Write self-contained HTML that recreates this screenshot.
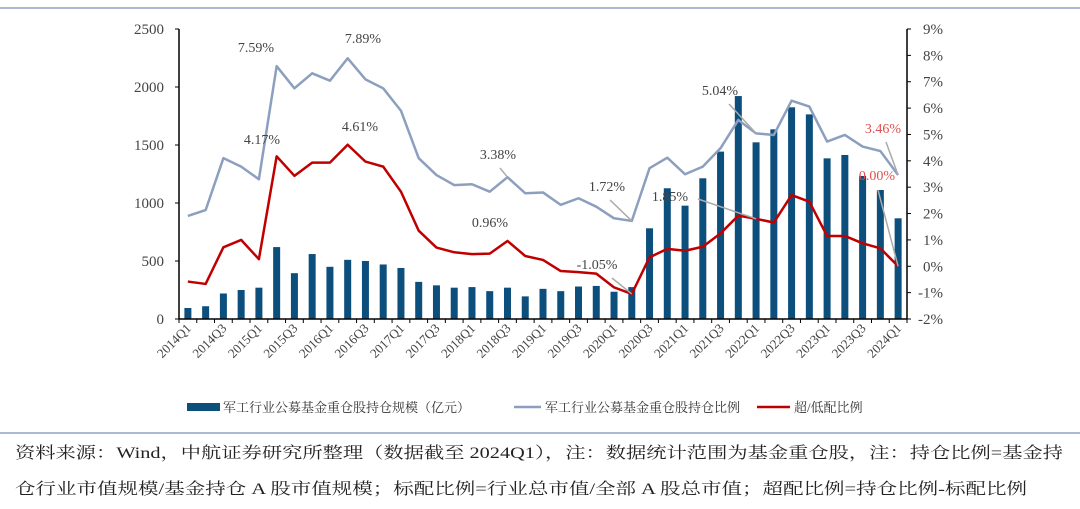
<!DOCTYPE html>
<html><head><meta charset="utf-8"><style>
html,body{margin:0;padding:0;background:#fff;}
svg{display:block;}
</style></head><body>
<svg id="chart" width="1080" height="509" viewBox="0 0 1080 509" xmlns="http://www.w3.org/2000/svg" font-family="'Liberation Serif','Noto Serif CJK SC',serif">
<line x1="0" y1="8" x2="1080" y2="8" stroke="#8da2c6" stroke-width="1.5"/>
<line x1="0" y1="433" x2="1080" y2="433" stroke="#8da2c6" stroke-width="1.5"/>
<g id="plot"></g>
<g font-family="'Liberation Serif','Noto Serif CJK SC',serif" font-size="13" fill="#333">
  <rect x="187" y="403" width="33" height="8" fill="#0d4f7c"/>
  <text x="223" y="412">军工行业公募基金重仓股持仓规模（亿元）</text>
  <line x1="514" y1="407" x2="541" y2="407" stroke="#8d9fbf" stroke-width="2.5"/>
  <text x="545" y="412">军工行业公募基金重仓股持仓比例</text>
  <line x1="757" y1="407" x2="790" y2="407" stroke="#c00000" stroke-width="2.5"/>
  <text x="794" y="412">超/低配比例</text>
</g>
<text x="15" y="458" font-size="16" fill="#222" textLength="1048" lengthAdjust="spacingAndGlyphs">资料来源：Wind，中航证券研究所整理（数据截至 2024Q1），注：数据统计范围为基金重仓股，注：持仓比例=基金持</text>
<text x="15" y="494" font-size="16" fill="#222" textLength="1012" lengthAdjust="spacingAndGlyphs">仓行业市值规模/基金持仓 A 股市值规模；标配比例=行业总市值/全部 A 股总市值；超配比例=持仓比例-标配比例</text>
</svg>
<script>
const categories = ["2014Q1","2014Q2","2014Q3","2014Q4","2015Q1","2015Q2","2015Q3","2015Q4","2016Q1","2016Q2","2016Q3","2016Q4","2017Q1","2017Q2","2017Q3","2017Q4","2018Q1","2018Q2","2018Q3","2018Q4","2019Q1","2019Q2","2019Q3","2019Q4","2020Q1","2020Q2","2020Q3","2020Q4","2021Q1","2021Q2","2021Q3","2021Q4","2022Q1","2022Q2","2022Q3","2022Q4","2023Q1","2023Q2","2023Q3","2023Q4","2024Q1"];
const holdingScale = [95,110,220,250,270,620,395,560,450,510,500,470,440,320,290,270,275,240,270,195,260,240,280,285,235,275,782,1127,977,1213,1443,1922,1523,1635,1825,1764,1385,1414,1233,1112,868];
const holdingRatio = [1.91,2.13,4.10,3.78,3.30,7.59,6.75,7.32,7.04,7.89,7.09,6.75,5.90,4.10,3.46,3.08,3.11,2.83,3.38,2.77,2.80,2.33,2.58,2.26,1.82,1.72,3.72,4.12,3.49,3.78,4.48,5.55,5.04,4.98,6.28,6.06,4.73,4.98,4.54,4.37,3.46];
const overweight = [-0.58,-0.67,0.72,1.00,0.27,4.17,3.43,3.93,3.93,4.61,3.97,3.78,2.83,1.35,0.71,0.53,0.46,0.48,0.96,0.39,0.24,-0.18,-0.22,-0.28,-0.80,-1.05,0.34,0.66,0.59,0.74,1.25,1.92,1.80,1.66,2.70,2.45,1.15,1.15,0.87,0.68,0.00];
const leftTicks = [0,500,1000,1500,2000,2500];
const rightTicks = [-2,-1,0,1,2,3,4,5,6,7,8,9];
const annoIdx = [5,9,5,9,18,18,25,25,32,32,40,40];
const annoSeries = ["r","r","o","o","r","o","r","o","o","r","r","o"];

const NS="http://www.w3.org/2000/svg";
const L=179,R=907,T=29,B=319;
const n=categories.length, step=(R-L)/n;
const xC=i=>L+step*(i+0.5);
const yL=v=>B-(v-0)/(2500-0)*(B-T);
const yR=v=>B-(v-(-2))/(9-(-2))*(B-T);
const g=document.getElementById('plot');
function mk(tag,attrs){const e=document.createElementNS(NS,tag);for(const k in attrs)e.setAttribute(k,attrs[k]);g.appendChild(e);return e;}

holdingScale.forEach((v,i)=>{
  const b=mk('rect',{x:xC(i)-3.5,y:yL(v),width:7,height:B-yL(v),fill:'#0d4f7c'});
  
  
});
function line(arr,color,name){
  const p=mk('polyline',{points:arr.map((v,i)=>xC(i)+','+yR(v)).join(' '),fill:'none',stroke:color,'stroke-width':2.5,'stroke-linejoin':'round'});
  
  
}
line(holdingRatio,'#8d9fbf','holding-ratio-line');
line(overweight,'#c00000','overweight-ratio-line');

const ax1=mk('line',{x1:L,y1:T,x2:L,y2:B,stroke:'#000','stroke-width':1.5});


const ax2=mk('line',{x1:R,y1:T,x2:R,y2:B,stroke:'#000','stroke-width':1.5});


const ax3=mk('line',{x1:L,y1:B,x2:R,y2:B,stroke:'#000','stroke-width':1.5});



leftTicks.forEach(v=>{
  mk('line',{x1:L-4,y1:yL(v),x2:L,y2:yL(v),stroke:'#000'});
  const t=mk('text',{x:L-15,y:yL(v)+5,'text-anchor':'end','font-size':15,fill:'#444'});
  t.textContent=v;
  
  
});
rightTicks.forEach(v=>{
  mk('line',{x1:R,y1:yR(v),x2:R+4,y2:yR(v),stroke:'#000'});
  const t=mk('text',{x:R+36,y:yR(v)+5,'text-anchor':'end','font-size':15,fill:'#444'});
  t.textContent=v+'%';
  
  
});
for(let i=0;i<=n;i++) mk('line',{x1:L+step*i,y1:B,x2:L+step*i,y2:B+4,stroke:'#000'});
categories.forEach((c,i)=>{
  if(i%2) return;
  const x=xC(i)+4,y=B+10;
  const t=mk('text',{x:x,y:y,'text-anchor':'end','font-size':13,fill:'#444',transform:`rotate(-45 ${x} ${y})`});
  t.textContent=c;
  
  
});

// label layout positions (not data): [x, y baseline, leader start x, leader start y or null]
const annoPos=[[256,52,null,null],[363,43,null,null],[262,144,null,null],[360,131,null,null],[498,159,500,168],[490,227,null,null],[607,191,610,200],[597,269,612,278],[670,201,698,199],[720,95,729,104],[883,133,886,142],[877,180,878,190]];
annoIdx.forEach((idx,k)=>{
  const isR=annoSeries[k]==='r';
  const v=isR?holdingRatio[idx]:overweight[idx];
  const px=xC(idx),py=yR(v);
  const [tx,ty,lx,ly]=annoPos[k];
  const col=(idx===40)?'#e05050':'#444';
  if(lx!==null){
    const ln=mk('line',{x1:lx,y1:ly,x2:px,y2:py,stroke:'#aaa','stroke-width':1.5});
    
    
  }
  const t=mk('text',{x:tx,y:ty,'text-anchor':'middle','font-size':14,fill:col});
  t.textContent=(k===8?'1.85':v.toFixed(2))+'%';
  
  
});
</script>
</body></html>
